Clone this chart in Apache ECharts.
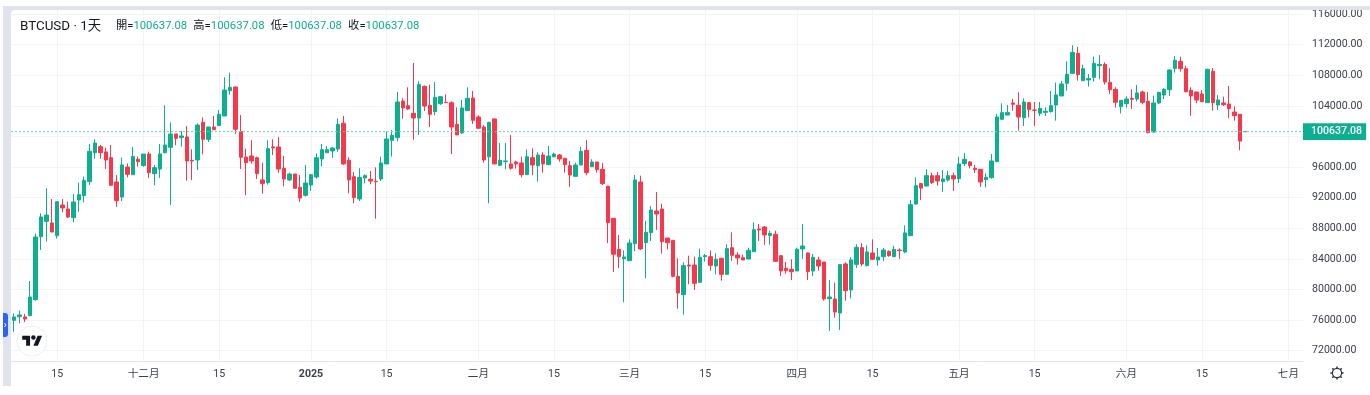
<!DOCTYPE html>
<html>
<head>
<meta charset="utf-8">
<script src="https://cdn.jsdelivr.net/npm/echarts@6/dist/echarts.min.js"></script>
<style>html,body{margin:0;padding:0;background:#fff}#c{width:1370px;height:395px}</style>
</head>
<body>
<div id="c"></div>
<script>
var opens = [75970,76450,76410,76580,78670,86910,88910,88700,87040,91050,90530,89390,91700,92270,94100,97890,98670,97980,97230,94050,92090,96010,95010,97020,96190,97710,95140,95750,97890,98590,100330,99850,99940,96890,96930,101850,99630,101240,101420,102680,105990,106470,100630,97320,97450,97230,94320,93970,98630,98630,95840,94320,95100,93360,92310,93660,94710,97060,97890,98110,98370,101720,96890,94750,91830,94580,94400,94140,94450,96410,99500,99850,104640,104030,103030,102420,106560,104070,103250,104290,104470,104420,101590,100460,103380,105030,102550,101240,97360,102290,96230,96710,96410,96670,96540,95010,97230,96190,97580,96320,97360,97580,97150,96190,94790,96280,98190,96060,96670,95710,93490,89300,85250,84030,83770,85990,94050,86120,87430,90260,90520,86730,86430,81720,79330,83200,83200,80940,84290,84290,83070,84080,81980,85470,84510,84160,83990,84950,87910,88170,87040,87210,84420,82770,82640,82420,85300,84770,82420,83860,83600,78800,78760,76930,83340,79940,83290,85470,83120,84770,83860,84290,84990,84290,85160,84900,87040,91180,93840,93530,94880,94880,94100,94310,94880,94490,96450,96670,95840,95710,94360,94620,96710,102250,102810,104380,104080,102460,104420,103470,103030,103160,103250,104120,105300,106950,108260,110870,107300,107390,107740,109260,109430,107080,106170,103900,104290,104990,104900,105820,104600,100590,104380,105430,106120,108910,109830,108870,106040,105820,105560,104420,108520,104120,104380,104250,103200,102900,100637.08];
var closes = [76410,76670,76150,79020,86870,89480,89740,87520,91480,90660,89480,91440,92400,94270,98060,99150,97890,96930,93620,91610,96280,95060,97370,96710,97710,95270,95930,97710,98890,100330,99760,100070,96800,96800,101500,99630,101240,100890,102900,106080,106430,100940,97280,96580,96800,95140,93840,98410,98500,95750,94450,95100,93230,91960,93920,95010,97230,98280,98280,98500,101590,96410,94320,92010,94660,94880,94180,94100,96540,99670,100150,104510,103730,103600,102420,106780,103990,102900,105120,105210,104420,101240,100200,103730,104990,102110,101070,96930,101850,96410,96890,96800,95840,96410,95010,97360,96280,97580,96410,97450,97710,97060,96320,94970,96280,98060,95270,96670,95670,93840,88740,84600,84290,84250,86080,94320,85300,87470,90390,89870,86250,86120,81720,79540,83120,83070,80810,84210,84420,83160,83950,81980,85340,84470,84120,83860,85120,87820,87780,87130,87340,83680,82420,82460,82330,85250,85690,82330,84210,83070,78760,79020,77060,83250,79850,83860,85510,83340,84900,83950,84250,85160,84420,85250,85080,87390,91090,93570,93270,94880,93970,94180,94450,94880,94450,96410,97020,96190,95670,94050,94660,96800,102550,103120,103120,104210,102550,104510,103510,103420,103680,103290,104030,105430,106860,108130,111000,108080,108870,107560,109570,109430,107130,106120,104470,104730,104900,104860,105690,104470,100500,104380,105770,106170,108690,109960,108870,105860,105300,104770,104550,108780,104420,104770,104160,103640,102720,99410,100637.08];
var lows = [74490,75580,75750,76540,78540,85170,86260,87480,86650,90090,89350,88780,90180,91400,93660,97100,97100,95750,93580,90790,91570,94660,95010,96060,96060,94580,93620,94580,97800,91050,98850,98670,94230,94320,95620,97670,99280,100850,101370,102680,105470,100330,95750,92310,96450,94450,92530,93710,97580,95270,93490,94180,93180,91440,92140,92880,94490,96100,97800,97230,98020,96280,92570,91270,91570,93880,93750,89260,94180,96410,97360,99370,102330,103460,99590,100200,103330,101240,102770,104120,104380,97710,100200,100370,103330,101630,101070,96580,91270,96410,96150,95710,95670,95800,94660,95010,94930,94100,95270,96320,97280,96710,95270,93400,94790,96280,94930,96010,95270,93660,86080,82290,82810,78320,83730,85030,85170,81460,86340,87780,84690,85250,81590,77500,76710,80680,79940,80900,83640,82460,81980,81160,81980,83730,83250,83860,83990,84950,86340,85820,85860,83600,81770,82070,81240,82420,83990,81240,81770,82460,78540,74580,76320,74710,78540,78850,82810,83030,83030,83860,83120,83730,84290,84290,83990,84730,86990,91090,91700,93440,93790,93570,92750,94100,92880,93920,96140,95840,95230,93400,93360,94490,96670,102160,102770,103380,100760,101370,102510,101370,102680,102680,103120,102070,105250,105990,108170,107300,107260,106520,107170,107470,106780,105560,103770,103030,103770,103600,104600,104210,100420,100550,104250,104900,105300,108350,108480,105770,102720,104340,104510,104420,103380,103470,103990,102380,102070,98190,100637.08];
var highs = [76890,77240,76800,81110,87340,89960,93230,91830,91480,91830,91480,92490,93970,94750,99020,99630,98890,98540,98890,94970,97230,96490,98630,97370,97710,98020,96280,99020,104080,101850,100330,100720,101370,98320,101720,102510,101240,102680,103470,107740,108350,106520,102810,98410,99540,97370,96580,99500,99630,99940,97450,95270,95100,94970,96280,95100,97800,99020,98760,98590,102380,102680,97280,95360,95840,95060,95490,95970,97360,100630,100850,105820,104990,106430,109610,107210,106650,106780,107120,105210,105510,104600,103810,104770,106430,105950,102770,101500,101940,102380,99150,99150,100200,96840,97360,98320,98450,97930,97930,98760,97890,97710,97150,96800,96580,98630,99540,97020,96670,96540,93570,89300,87130,85120,86560,94970,94880,89000,90920,92750,91220,86730,86470,84080,83550,84420,84290,85340,84640,85120,84730,84160,85910,87470,84860,84560,85470,88780,88560,88300,87690,87690,84510,83600,83950,85470,88560,84820,84640,84290,83600,81240,80900,83340,83550,84210,85910,86040,85770,86560,85430,85430,85120,85690,85380,88390,91700,94660,93880,95710,95270,95360,95620,95530,95270,97360,97840,96800,96280,95750,95190,97710,102940,104340,104120,104900,105770,104990,104510,104510,104510,103810,105950,107040,107260,109830,111920,111700,109390,108170,110440,110650,109700,108910,106430,104730,105250,106170,106730,105990,105820,105340,105820,106300,108780,110520,110440,109260,106430,105820,106080,108870,108960,105430,105210,106600,103940,102940,100637.08];

var lastPrice = 100637.08;
var priceTicks = [72000,76000,80000,84000,88000,92000,96000,100000,104000,108000,112000,116000];
var timeTickIndex = [8,24,38,55,69,86,100,114,128,145,159,175,189,206,220,236];
var timeTickLabels = ['15','十二月','15','2025','15','二月','15','三月','15','四月','15','五月','15','六月','15','七月'];
var legendTitle = 'BTCUSD · 1天';
var legendNames = ['開','高','低','收'];
var legendValues = ['100637.08','100637.08','100637.08','100637.08'];

var UP = '#0caf8e', DOWN = '#f7374b', BAND = '#e0e3eb', GRID = '#f2f3f6', TXT = '#3a3f4a';
var FONT = 'Roboto, "Noto Sans CJK TC", sans-serif';
var X_MIN = -0.556, X_MAX = 238.7;

var candles = opens.map(function (o, i) { return [i, o, closes[i], lows[i], highs[i]]; });
var labelOf = {};
timeTickIndex.forEach(function (t, i) { labelOf[t] = timeTickLabels[i]; });

var legendGraphics = [{
  type: 'text', x: 20, y: 20, z: 50,
  style: { text: legendTitle, fill: '#131722', font: '13.4px ' + FONT }
}];
legendNames.forEach(function (n, i) {
  legendGraphics.push({
    type: 'text', x: 115.9 + 77.4 * i, y: 21, z: 50,
    style: {
      text: '{l|' + n + '=}{v|' + legendValues[i] + '}',
      rich: {
        l: { fill: '#131722', font: '11.3px ' + FONT },
        v: { fill: UP, font: '11.3px ' + FONT }
      }
    }
  });
});

var gearSpokes = [[0,-6.6,0,-4],[0,6.6,0,4],[-6.6,0,-4,0],[6.6,0,4,0],[-4.7,-4.7,-3,-3],[4.7,4.7,3,3],[-4.7,4.7,-3,3],[4.7,-4.7,3,-3]].map(function (s) {
  return { type: 'line', z: 41, shape: { x1: s[0], y1: s[1], x2: s[2], y2: s[3] }, style: { stroke: '#2a2e39', lineWidth: 1.4 } };
});

var option = {
  animation: false,
  backgroundColor: '#ffffff',
  grid: { left: 11, right: 67, top: 10, bottom: 34 },
  xAxis: {
    type: 'value', min: X_MIN, max: X_MAX,
    axisLine: { show: true, onZero: false, lineStyle: { color: BAND, width: 1 } },
    axisTick: { show: false, customValues: timeTickIndex },
    splitLine: { show: true, lineStyle: { color: GRID, width: 1 } },
    axisLabel: {
      customValues: timeTickIndex, margin: 8, color: TXT, fontFamily: FONT, fontSize: 10.6,
      hideOverlap: false, showMinLabel: true, showMaxLabel: true,
      formatter: function (v) {
        var s = labelOf[v];
        return s === '2025' ? '{b|2025}' : s;
      },
      rich: { b: { fontWeight: 'bold', color: TXT, fontFamily: FONT, fontSize: 10.6 } }
    }
  },
  yAxis: {
    type: 'value', position: 'right', min: 70653, max: 116536,
    axisLine: { show: false },
    axisTick: { show: false, customValues: priceTicks },
    splitLine: { show: true, lineStyle: { color: GRID, width: 1 } },
    axisLabel: {
      customValues: priceTicks, margin: 9, color: TXT, fontFamily: FONT, fontSize: 10.6, padding: [5, 0, 0, 0],
      formatter: function (v) { return v.toFixed(2); }
    }
  },
  series: [{
    type: 'candlestick',
    data: candles,
    encode: { x: 0, y: [1, 2, 3, 4] },
    barWidth: 4,
    z: 5,
    itemStyle: { color: UP, color0: DOWN, borderColor: UP, borderColor0: DOWN, borderColorDoji: UP, borderWidth: 1 },
    markLine: {
      silent: true, symbol: 'none', z: 8, animation: false,
      label: {
        show: true, position: 'end', distance: 0, color: '#fff', backgroundColor: UP,
        fontFamily: FONT, fontSize: 10.6, fontWeight: 500, padding: [4, 4, 2, 8],
        formatter: function () { return lastPrice.toFixed(2); }
      },
      data: [{ yAxis: lastPrice, lineStyle: { width: 0, color: UP } }]
    }
  }, {
    type: 'line',
    data: [[X_MIN, lastPrice], [X_MAX, lastPrice]],
    symbol: 'none', silent: true, z: 6,
    lineStyle: { type: [2, 2], color: '#63d0ba', width: 1 }
  }],
  graphic: [
    { type: 'rect', z: 40, shape: { x: 3, y: 6, width: 1367, height: 4 }, style: { fill: BAND } },
    { type: 'rect', z: 40, shape: { x: 3, y: 6, width: 8, height: 380 }, style: { fill: BAND } },
    { type: 'polygon', z: 40, shape: { points: [[11, 10], [14, 10], [12, 11], [11, 13]] }, style: { fill: BAND } },
    { type: 'rect', z: 41, shape: { x: 3, y: 313, width: 5, height: 24, r: [0, 3, 3, 0] }, style: { fill: '#2962ff' } },
    { type: 'polyline', z: 42, shape: { points: [[4.5, 323], [6, 325], [4.5, 327]] }, style: { stroke: '#fff', fill: null, lineWidth: 1 } },
    { type: 'circle', z: 41, shape: { cx: 32, cy: 341, r: 15 }, style: { fill: '#fff', stroke: '#eceef2', lineWidth: 1 } },
    { type: 'group', z: 42, x: 22.2, y: 333.5, scaleX: 0.56, scaleY: 0.56, children: [
      { type: 'polygon', z: 42, shape: { points: [[14, 22], [7, 22], [7, 11], [0, 11], [0, 4], [14, 4]] }, style: { fill: '#131722' } },
      { type: 'polygon', z: 42, shape: { points: [[28, 22], [20, 22], [27.5, 4], [35.5, 4]] }, style: { fill: '#131722' } },
      { type: 'circle', z: 42, shape: { cx: 20, cy: 7, r: 4 }, style: { fill: '#131722' } }
    ] },
    { type: 'group', z: 42, x: 1337, y: 373, children: gearSpokes.concat([
      { type: 'circle', z: 42, shape: { cx: 0, cy: 0, r: 4.6 }, style: { fill: '#fff', stroke: '#2a2e39', lineWidth: 1.2 } }
    ]) }
  ].concat(legendGraphics)
};
var chart = echarts.init(document.getElementById('c'), null, { renderer: 'canvas' });
chart.setOption(option);
</script>
</body>
</html>
